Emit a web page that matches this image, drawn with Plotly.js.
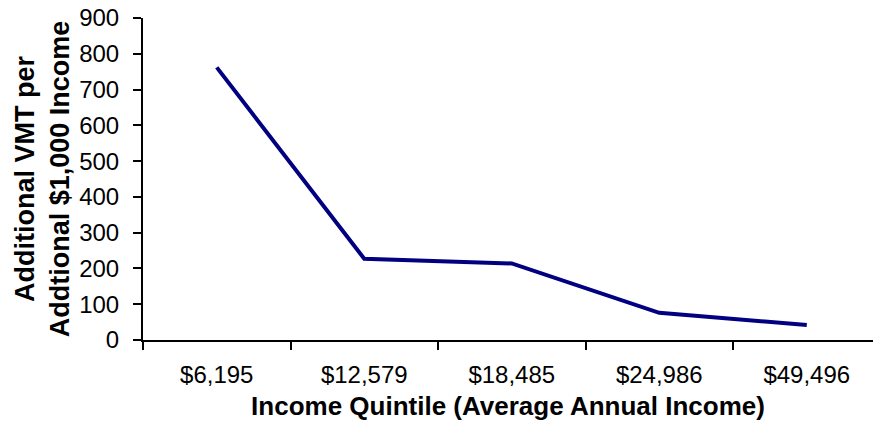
<!DOCTYPE html>
<html>
<head>
<meta charset="utf-8">
<script src="https://cdn.plot.ly/plotly-3.0.1.min.js"></script>
<style>html,body{margin:0;padding:0;background:#fff;}#chart{width:873px;height:432px;}</style>
</head>
<body>
<div id="chart"></div>
<script>
const categories = ["$6,195", "$12,579", "$18,485", "$24,986", "$49,496"];
const vmtPerThousand = [762, 227, 214, 76, 42];
const yTicks = [0, 100, 200, 300, 400, 500, 600, 700, 800, 900];

const trace = {
  x: categories,
  y: vmtPerThousand,
  type: "scatter",
  mode: "lines",
  line: {color: "#000080", width: 4},
  hoverinfo: "skip"
};

const font = "Liberation Sans, Arial, sans-serif";
const layout = {
  width: 873,
  height: 432,
  margin: {l: 143, r: 0, t: 18, b: 92, pad: 0},
  paper_bgcolor: "#ffffff",
  plot_bgcolor: "#ffffff",
  showlegend: false,
  font: {family: font, color: "#000000", size: 24},
  xaxis: {
    type: "category",
    range: [-0.5, 4.449],
    tickson: "boundaries",
    ticks: "outside",
    ticklen: 8,
    tickwidth: 2,
    tickcolor: "#000",
    showline: true,
    linecolor: "#000",
    linewidth: 2,
    showgrid: false,
    zeroline: false,
    ticklabelstandoff: 12,
    tickfont: {family: font, size: 24, color: "#000"},
    title: {text: "<b>Income Quintile (Average Annual Income)</b>", font: {family: font, size: 26, color: "#000"}, standoff: 10}
  },
  yaxis: {
    range: [0, 900],
    tickmode: "array",
    tickvals: yTicks,
    ticktext: yTicks.map(String),
    ticks: "outside",
    ticklen: 8,
    tickwidth: 2,
    tickcolor: "#000",
    showline: true,
    linecolor: "#000",
    linewidth: 2,
    showgrid: false,
    zeroline: false,
    ticklabelstandoff: 9,
    tickfont: {family: font, size: 24, color: "#000"},
    title: {text: "<b>Additional VMT per<br>Addtional $1,000 Income</b>", font: {family: font, size: 27, color: "#000"}, standoff: 2}
  }
};

Plotly.newPlot("chart", [trace], layout, {staticPlot: true, displayModeBar: false});
</script>
</body>
</html>
